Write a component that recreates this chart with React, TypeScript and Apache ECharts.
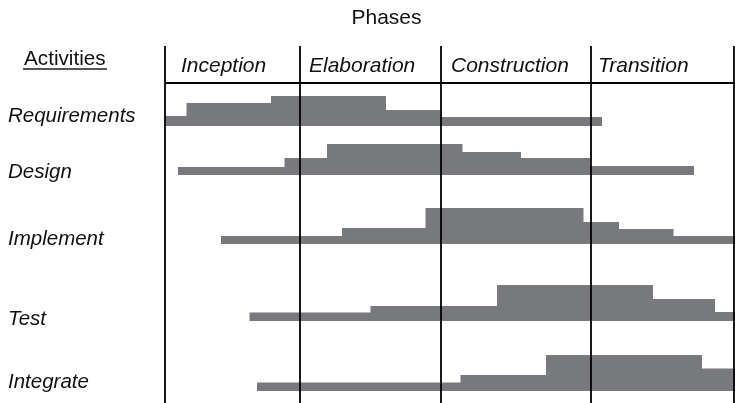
import React, { useEffect, useRef } from "react";
import * as echarts from "echarts";

// Activities (rows) and phases (columns)
const activities = ["Requirements", "Design", "Implement", "Test", "Integrate"];
const phases = ["Inception", "Elaboration", "Construction", "Transition"];
// phase boundaries along the project time axis (0..570)
const phaseStarts = [0, 135, 275.5, 425.5];
const projectEnd = 569;

// baseline of each activity row (effort axis, 0..357 from bottom)
const baselines = [277, 228, 159, 82, 12];

// step edges along the time axis and effort level of each step
const requirementsEdges = [0, 21.5, 106, 221, 275.5, 437];
const requirementsLevels = [10, 23, 30, 16, 9];
const designEdges = [13, 119.5, 162, 297.5, 356, 425, 529];
const designLevels = [8, 17, 31, 23, 17, 9];
const implementEdges = [56, 177, 260.5, 418.5, 454, 508.5, 570];
const implementLevels = [8, 16, 36, 22, 15, 8];
const testEdges = [84.5, 205.5, 332, 488, 550, 570];
const testLevels = [8.5, 15, 36, 22, 9];
const integrateEdges = [92, 295.5, 381, 537, 570];
const integrateLevels = [8.5, 16, 36, 22.5];

const allEdges = [requirementsEdges, designEdges, implementEdges, testEdges, integrateEdges];
const allLevels = [requirementsLevels, designLevels, implementLevels, testLevels, integrateLevels];

const FONT = "'Liberation Sans', Arial, Helvetica, sans-serif";
const GRAY = "#78797d";

export default function App() {
  const ref = useRef<HTMLDivElement>(null);
  useEffect(() => {
    if (!ref.current) return;
    document.body.style.margin = "0";
    const chart = echarts.init(ref.current, null, { renderer: "svg" });

    const renderItem = (params: any, api: any) => {
      const idx = api.value(0);
      const edges = allEdges[idx];
      const levels = allLevels[idx];
      const base = baselines[idx];
      const pts: number[][] = [];
      pts.push(api.coord([edges[0], base]));
      for (let i = 0; i < levels.length; i++) {
        pts.push(api.coord([edges[i], base + levels[i]]));
        pts.push(api.coord([edges[i + 1], base + levels[i]]));
      }
      pts.push(api.coord([edges[edges.length - 1], base]));
      return {
        type: "polygon",
        shape: { points: pts },
        style: { fill: GRAY, stroke: "none" },
      };
    };

    const phaseLabelX = [181, 309, 451, 598];
    const activityLabelY = [114.5, 170.5, 237.5, 317.5, 380.5];

    const graphics: any[] = [
      {
        type: "text",
        x: 386.5,
        y: 16,
        style: { text: "Phases", font: `21px ${FONT}`, fill: "#111", align: "center", verticalAlign: "middle" },
      },
      {
        type: "text",
        x: 24,
        y: 57,
        style: { text: "Activities", font: `20.7px ${FONT}`, fill: "#111", align: "left", verticalAlign: "middle" },
      },
      {
        type: "line",
        shape: { x1: 23, y1: 69, x2: 107, y2: 69 },
        style: { stroke: "#555", lineWidth: 2 },
      },
      ...phases.map((p, i) => ({
        type: "text",
        x: phaseLabelX[i],
        y: 64.5,
        style: { text: p, font: `italic 21px ${FONT}`, fill: "#111", align: "left", verticalAlign: "middle" },
      })),
      ...activities.map((a, i) => ({
        type: "text",
        x: 8,
        y: activityLabelY[i],
        style: { text: a, font: `italic 20.5px ${FONT}`, fill: "#111", align: "left", verticalAlign: "middle" },
      })),
    ];

    chart.setOption({
      animation: false,
      grid: { left: 165, right: 0, top: 46, bottom: 0 },
      xAxis: { type: "value", min: 0, max: 570, show: false },
      yAxis: { type: "value", min: 0, max: 357, show: false },
      graphic: graphics,
      series: [
        {
          type: "custom",
          renderItem,
          data: activities.map((_, i) => [i]),
          silent: true,
          markLine: {
            silent: true,
            symbol: "none",
            label: { show: false },
            lineStyle: { color: "#000", width: 1.8, type: "solid" },
            data: [
              ...phaseStarts.concat([projectEnd]).map((x) => ({ xAxis: x })),
              { yAxis: 320 },
            ],
          },
        },
      ],
    });
    return () => chart.dispose();
  }, []);
  return <div ref={ref} style={{ position: "fixed", left: 0, top: 0, width: 735, height: 403 }} />;
}
